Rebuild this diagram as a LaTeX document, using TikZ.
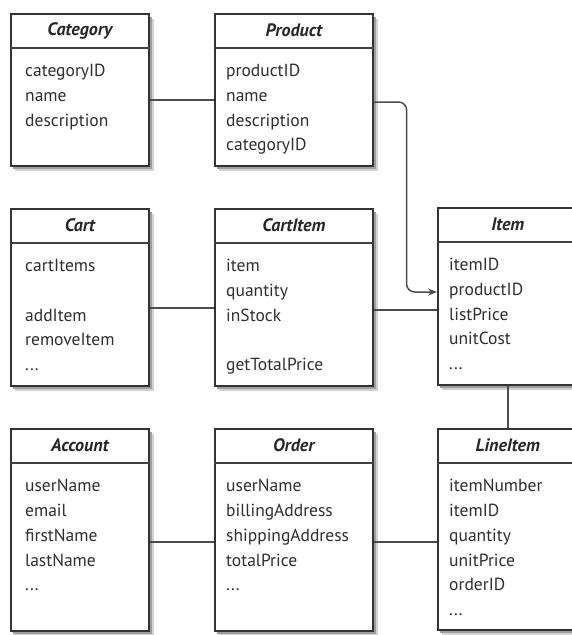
\documentclass[tikz,border=0pt]{standalone}
\usepackage{fontspec}
\setmainfont{PT Sans}
\usetikzlibrary{arrows.meta}

\tikzset{
  classbox/.style={draw=black!80, line width=1.6pt, fill=white, inner sep=0pt},
  softshadow/.style={fill=black!18},
  boxshadow/.style={fill=black!38},
  divider/.style={draw=black!75, line width=1.4pt},
  title/.style={font=\fontsize{18}{20}\selectfont\bfseries\itshape, text=black!85, inner sep=0pt},
  body/.style={font=\fontsize{17.5}{24.8}\selectfont, text=black!82, align=left, inner sep=0pt,
    execute at begin node={\rule{0pt}{13pt}}},
  link/.style={draw=black!70, line width=1.5pt},
}

% #1 name, #2 x, #3 y (top), #4 width, #5 height, #6 text indent, #7 title, #8 members
\newcommand\umlclass[8]{%
  \fill[softshadow] (#2+5,#3+6) rectangle (#2+#4+6,#3+#5+6);
  \fill[boxshadow] (#2+3,#3+4) rectangle (#2+#4+4,#3+#5+4);
  \node[classbox, minimum width=#4pt, minimum height=#5pt, anchor=north west] (#1) at (#2,#3) {};
  \draw[divider] ([yshift=-35pt]#1.north west) -- ([yshift=-35pt]#1.north east);
  \node[title] (#1-t) at ([yshift=-17.5pt]#1.north) {#7};
  \node[body, anchor=north west] (#1-b) at ([xshift=#6pt,yshift=-51pt]#1.north west) {#8};
}

\begin{document}
\begin{tikzpicture}[x=1pt, y=-1pt]
  \useasboundingbox (0,0) rectangle (572,635);
  \clip (0,0) rectangle (572,635);
  \fill[white] (0,0) rectangle (572,635);

  % top row
  \umlclass{cat}{10}{13}{138}{152}{15}{Category}{categoryID\\name\\description}
  \umlclass{prod}{214}{13}{158}{152}{12}{Product}{productID\\name\\description\\categoryID}

  % middle row
  \umlclass{cart}{10}{208}{138}{177}{15}{Cart}{cartItems\\[24.8pt]addItem\\removeItem\\...}
  \umlclass{citem}{214}{208}{158}{177}{12}{CartItem}{item\\quantity\\inStock\\[24.8pt]getTotalPrice}
  \umlclass{item}{437}{207}{140}{177}{12}{Item}{itemID\\productID\\listPrice\\unitCost\\...}

  % bottom row
  \umlclass{acct}{10}{428}{138}{202}{15}{Account}{userName\\email\\firstName\\lastName\\...}
  \umlclass{order}{214}{428}{158}{202}{12}{Order}{userName\\billingAddress\\shippingAddress\\totalPrice\\...}
  \umlclass{line}{437}{428}{140}{201}{12}{LineItem}{itemNumber\\itemID\\quantity\\unitPrice\\orderID\\...}

  % associations
  \coordinate (catR) at ([yshift=-87pt]cat.north east);
  \draw[link] (catR) -- (catR -| prod.west);

  \coordinate (prodR) at ([yshift=-89pt]prod.north east);
  \coordinate (itemL) at ([yshift=-85pt]item.north west);
  \draw[link, rounded corners=8pt, -{Stealth[length=9pt,width=7pt]}]
    (prodR) -| ([xshift=33pt]prodR |- itemL) -- (itemL);

  \coordinate (cartR) at ([yshift=-100pt]cart.north east);
  \draw[link] (cartR) -- (cartR -| citem.west);

  \coordinate (citemR) at ([yshift=-102pt]citem.north east);
  \draw[link] (citemR) -- (citemR -| item.west);

  \draw[link] (item.south) -- (line.north);

  \coordinate (acctR) at ([yshift=-114pt]acct.north east);
  \draw[link] (acctR) -- (acctR -| order.west);

  \coordinate (orderR) at ([yshift=-114pt]order.north east);
  \draw[link] (orderR) -- (orderR -| line.west);
\end{tikzpicture}
\end{document}
